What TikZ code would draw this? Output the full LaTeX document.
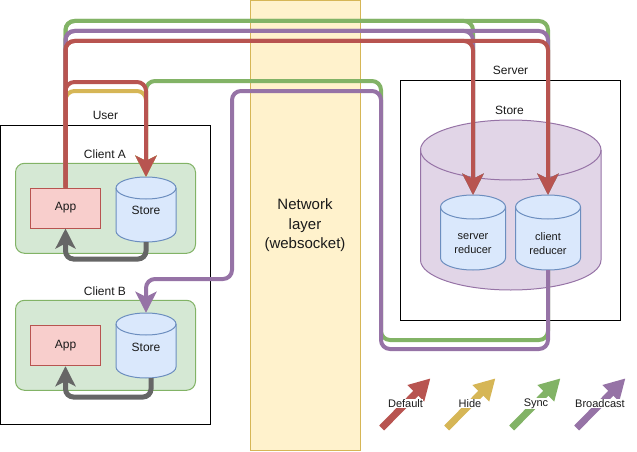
\documentclass[tikz,border=0pt]{standalone}
\usepackage{fontspec}
\setmainfont{Liberation Sans}
\usetikzlibrary{arrows.meta}

\definecolor{redS}{HTML}{B85450}
\definecolor{redF}{HTML}{F8CECC}
\definecolor{yelS}{HTML}{D6B656}
\definecolor{yelF}{HTML}{FFF2CC}
\definecolor{grnS}{HTML}{82B366}
\definecolor{grnF}{HTML}{D5E8D4}
\definecolor{purS}{HTML}{9673A6}
\definecolor{purF}{HTML}{E1D5E7}
\definecolor{bluS}{HTML}{6C8EBF}
\definecolor{bluF}{HTML}{DAE8FC}
\definecolor{grayS}{HTML}{666666}
\definecolor{txt}{HTML}{1A1A1A}

% upright cylinder: name, x1, ytop, x2, ybot, ry, fill, stroke
\newcommand\dbcyl[8]{%
  \pgfmathsetmacro\cylcx{(#2+#4)/2}%
  \pgfmathsetmacro\cylrx{(#4-#2)/2}%
  \pgfmathsetmacro\cylkx{0.5523*\cylrx}%
  \pgfmathsetmacro\cylky{0.5523*#6}%
  \pgfmathsetmacro\cylya{#3+#6}%
  \pgfmathsetmacro\cylyb{#5-#6}%
  \pgfmathsetmacro\cylw{#4-#2}%
  \pgfmathsetmacro\cylh{#5-#3}%
  \filldraw[fill=#7,draw=#8,line width=1pt]
    (#2,\cylya) -- (#2,\cylyb)
    .. controls (#2,\cylyb+\cylky) and (\cylcx-\cylkx,#5) .. (\cylcx,#5)
    .. controls (\cylcx+\cylkx,#5) and (#4,\cylyb+\cylky) .. (#4,\cylyb)
    -- (#4,\cylya)
    .. controls (#4,\cylya-\cylky) and (\cylcx+\cylkx,#3) .. (\cylcx,#3)
    .. controls (\cylcx-\cylkx,#3) and (#2,\cylya-\cylky) .. (#2,\cylya) -- cycle;
  \draw[draw=#8,line width=1pt]
    (#2,\cylya)
    .. controls (#2,\cylya+\cylky) and (\cylcx-\cylkx,\cylya+#6) .. (\cylcx,\cylya+#6)
    .. controls (\cylcx+\cylkx,\cylya+#6) and (#4,\cylya+\cylky) .. (#4,\cylya);
  \node[inner sep=0pt,minimum width=\cylw pt,minimum height=\cylh pt] (#1) at (\cylcx,{(#3+#5)/2}) {};
}

\tikzset{
  lbl/.style={text=txt,inner sep=0pt,font=\fontsize{12}{14}\selectfont},
  small/.style={text=txt,inner sep=0pt,align=center,font=\fontsize{11}{14}\selectfont},
  box/.style={draw=black,line width=1pt,inner sep=0pt},
  clientbox/.style={draw=grnS,fill=grnF,line width=1pt,rounded corners=9pt,inner sep=0pt,
    minimum width=180pt,minimum height=90pt},
  appbox/.style={draw=redS,fill=redF,line width=1pt,inner sep=0pt,text=txt,
    font=\fontsize{12}{14}\selectfont,minimum width=70pt,minimum height=40pt},
  conn/.style={line width=4pt,rounded corners=9pt},
  headtip/.style={-{Stealth[length=21pt,width=21pt,inset=5pt]}},
  loop/.style={line width=5pt,draw=grayS,rounded corners=8pt,
    -{Stealth[length=20pt,width=20pt,inset=5pt]}},
  legendarrow/.style={line width=7pt,-{Triangle[length=21pt,width=22pt]}},
  legendlbl/.style={fill=white,inner sep=0.5pt,text=txt,font=\fontsize{11}{13}\selectfont},
}

\begin{document}
\begin{tikzpicture}[x=1pt,y=-1pt]
\useasboundingbox (0,0) rectangle (637,452);

% network layer band
\node[draw=yelS,fill=yelF,line width=1pt,minimum width=110pt,minimum height=449.5pt,
  inner sep=0pt,align=center,text=txt,font=\fontsize{15}{19.5}\selectfont]
  (net) at (305,225.25) {Network\\layer\\(websocket)};

% user side
\node[box,minimum width=210pt,minimum height=299pt] (user) at (105.5,275) {};
\node[lbl] (userlbl) at (105.5,115.7) {User};

\node[clientbox] (clientA) at (105.5,208.3) {};
\node[lbl] (clientAlbl) at (105,154) {Client A};
\node[appbox] (appA) at (65.5,208) {App};
\dbcyl{storeA}{116}{177}{176}{242}{11}{bluF}{bluS}
\node[lbl] (storeAtxt) at (146,210.7) {Store};

\node[clientbox] (clientB) at (105.5,345.3) {};
\node[lbl] (clientBlbl) at (105,291) {Client B};
\node[appbox] (appB) at (65.5,345.7) {App};
\dbcyl{storeB}{116}{313}{176}{378}{11}{bluF}{bluS}
\node[lbl] (storeBtxt) at (146,347.5) {Store};

% server side
\node[box,minimum width=220pt,minimum height=240pt] (server) at (510.5,200.5) {};
\node[lbl] (serverlbl) at (510.5,70.7) {Server};
\node[lbl] (storelbl) at (509.5,110.7) {Store};
\dbcyl{bigstore}{420.5}{120}{601}{290}{30}{purF}{purS}
\dbcyl{srvRed}{440.5}{195}{505.5}{270}{12}{bluF}{bluS}
\dbcyl{cliRed}{515.5}{195}{580.5}{270}{12}{bluF}{bluS}
\node[small] (srvRedtxt) at (473,243.7) {server\\reducer};
\node[small] (cliRedtxt) at (548,243.7) {client\\reducer};

% rail levels
\coordinate (yG) at (0,21);
\coordinate (yP) at (0,31);
\coordinate (yR) at (0,41);
\coordinate (yRl) at (0,82);
\coordinate (yGl) at (0,81);
\coordinate (yYl) at (0,91);
\coordinate (yPl) at (0,91);
\coordinate (yGb) at (0,340);
\coordinate (yPb) at (0,349);
\coordinate (xRet) at (381,0);
\coordinate (xPb) at (232,0);
\coordinate (yPc) at (0,279);

% sync (green)
\draw[conn,grnS,headtip] (appA.north) -- (appA.north |- yG) -- (srvRed.north |- yG) -- (srvRed.north);
\draw[conn,grnS,headtip] (appA.north) -- (appA.north |- yG) -- (cliRed.north |- yG) -- (cliRed.north);
\draw[conn,grnS,headtip] (cliRed.south) -- (cliRed.south |- yGb) -- (xRet |- yGb) -- (xRet |- yGl)
  -- (storeA.north |- yGl) -- (storeA.north);

% broadcast (purple)
\draw[conn,purS,headtip] (appA.north) -- (appA.north |- yP) -- (srvRed.north |- yP) -- (srvRed.north);
\draw[conn,purS,headtip] (appA.north) -- (appA.north |- yP) -- (cliRed.north |- yP) -- (cliRed.north);
\draw[conn,purS,headtip] (cliRed.south) -- (cliRed.south |- yPb) -- (xRet |- yPb) -- (xRet |- yPl)
  -- (xPb |- yPl) -- (xPb |- yPc) -- (storeB.north |- yPc) -- (storeB.north);

% hide (yellow)
\draw[conn,yelS,headtip] (appA.north) -- (appA.north |- yYl) -- (storeA.north |- yYl) -- (storeA.north);

% default (red)
\draw[conn,redS,headtip] (appA.north) -- (appA.north |- yR) -- (srvRed.north |- yR) -- (srvRed.north);
\draw[conn,redS,headtip] (appA.north) -- (appA.north |- yR) -- (cliRed.north |- yR) -- (cliRed.north);
\draw[conn,redS,headtip] (appA.north) -- (appA.north |- yRl) -- (storeA.north |- yRl) -- (storeA.north);

% store to app loops
\coordinate (yLa) at (0,259);
\coordinate (yLb) at (0,397);
\draw[loop] (storeA.south) -- (storeA.south |- yLa) -- (appA.south |- yLa) -- (appA.south);
\coordinate (storeBout) at ([xshift=5pt]storeB.south);
\draw[loop] (storeBout) -- (storeBout |- yLb) -- (appB.south |- yLb) -- (appB.south);

% legend
\coordinate (lgDa) at (381.7,428);
\coordinate (lgDb) at (430.5,378.3);
\coordinate (lgHa) at (446.7,428);
\coordinate (lgHb) at (495.5,378.3);
\coordinate (lgSa) at (511.7,428);
\coordinate (lgSb) at (560.5,378.3);
\coordinate (lgBa) at (576.7,428);
\coordinate (lgBb) at (625.5,378.3);
\draw[legendarrow,redS] (lgDa) -- (lgDb);
\draw[legendarrow,yelS] (lgHa) -- (lgHb);
\draw[legendarrow,grnS] (lgSa) -- (lgSb);
\draw[legendarrow,purS] (lgBa) -- (lgBb);
\node[legendlbl] (lgD) at (405.5,403.3) {Default};
\node[legendlbl] (lgH) at (470,403.3) {Hide};
\node[legendlbl] (lgS) at (536,403.3) {Sync};
\node[legendlbl] (lgB) at (600,403.3) {Broadcast};
\end{tikzpicture}
\end{document}
